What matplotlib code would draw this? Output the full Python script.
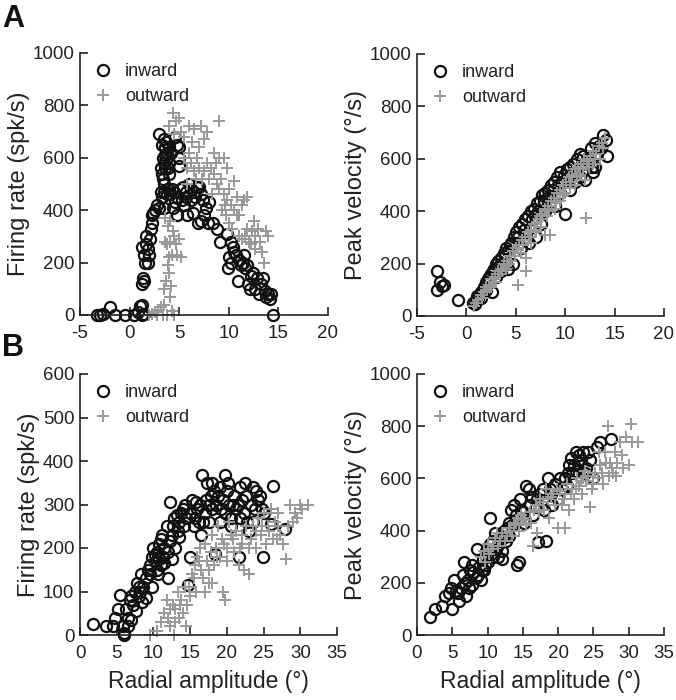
import matplotlib
matplotlib.use("Agg")
import matplotlib.pyplot as plt
import numpy as np

plt.rcParams['font.family'] = ['Liberation Sans', 'DejaVu Sans']
plt.rcParams['axes.unicode_minus'] = False

# ---- panel A, firing rate ----
aL_in = [(-3.3,0),(-3.0,0),(-2.7,5),(-2.0,30),(-1.5,0),(-0.5,0),(0.4,0),(0.8,10),(1.0,35),(1.2,40),(1.3,0),(1.5,5),
         (1.3,120),(1.4,140),(1.5,130),(1.2,260),(1.5,230),(1.6,200),(1.9,200),(1.7,270),(1.7,300),(1.9,250),(2.0,230),
         (2.1,290),(2.2,330),(2.3,350),(2.3,380),(2.4,390),(2.6,400),(2.8,420),(3.0,410),(3.5,410),
         (3.0,690),(3.3,650),(3.5,670),(3.6,640),(3.7,660),(3.2,560),(3.3,540),(3.4,600),(3.5,580),(3.6,560),(3.7,590),
         (3.8,620),(3.9,560),(4.0,540),(3.4,520),(3.5,500),(3.2,470),(3.5,470),(3.8,460),(4.1,460),(4.3,480),(4.5,470),
         (4.0,640),(4.2,620),(4.6,680),(4.8,650),(5.0,640),(5.0,600),(5.0,570),(3.6,610),(4.0,580),(3.3,450),(3.9,480),
         (4.8,450),(5.1,480),(5.4,490),(5.7,470),(6.0,500),(6.2,480),(6.5,470),(6.8,490),(7.0,490),(7.2,460),(7.4,440),
         (5.3,440),(5.7,450),(6.2,440),(4.6,430),(4.4,410),(4.8,380),(5.8,380),(6.4,390),(6.9,350),(7.2,360),(7.7,410),
         (8.0,430),(7.9,350),(8.4,350),(8.8,330),(9.1,280),(6.6,450),(5.5,420),(7.5,380),
         (9.8,310),(10.2,280),(10.4,260),(10.5,240),(10.0,220),(10.2,200),(9.9,180),(10.7,230),(11.0,210),(11.2,190),
         (11.5,230),(11.6,180),(10.9,130),(11.8,190),(11.9,120),(12.1,100),(12.4,160),(12.6,100),(12.8,140),(13.0,80),
         (13.2,120),(13.4,140),(13.6,90),(13.8,70),(14.0,80),(14.2,60),(14.3,80),(14.5,0),(11.4,200),(12.2,150)]
aL_out = [(2.0,0),(2.3,5),(2.6,10),(2.9,20),(3.2,30),(3.5,40),(3.8,0),(4.1,70),(4.3,15),(2.8,0),(3.4,0),(4.5,0),
          (3.5,100),(3.7,130),(4.0,160),(3.9,190),(4.2,110),(3.6,280),(3.8,270),(4.1,280),(4.3,230),(4.5,300),(4.8,230),
          (5.0,290),(5.2,220),(3.9,340),(4.1,360),(4.4,320),(3.6,370),(4.7,270),(4.0,220),
          (4.0,720),(4.4,770),(4.7,740),(5.0,750),(5.2,700),(5.5,680),(6.0,720),(6.5,710),(7.2,720),(7.5,670),(7.8,700),
          (9.0,740),(8.5,620),(9.5,600),(9.8,560),(4.5,690),(6.3,660),
          (5.5,600),(5.8,560),(6.0,620),(6.2,580),(6.5,550),(6.8,600),(7.0,560),(7.3,520),(7.5,550),(7.8,580),(8.0,520),
          (8.2,560),(8.5,540),(8.8,500),(9.0,480),(9.2,520),(9.5,460),(9.8,440),(10.0,480),(10.2,420),(10.5,400),(10.8,450),
          (11.0,380),(11.3,420),(11.5,440),(9.3,400),(9.6,420),(10.0,350),(10.3,330),(11.0,300),(11.3,290),(11.6,300),
          (11.8,330),(12.0,280),(12.3,320),(12.6,300),(12.9,330),(13.1,280),(13.3,240),(12.2,270),(12.6,250),(13.5,200),
          (14.0,300),(13.7,320),(8.7,580),(9.0,600),(10.5,510),(7.0,640),(6.7,520),(8.3,460),(9.7,380),(11.8,450),
          (12.5,360),(10.8,380),(5.8,500)]

# ---- panel A, peak velocity ----
aR_in = [(-3.0,170),(-3.0,100),(-2.7,130),(-2.5,115),(-2.3,120),(-0.9,60),
         (0.7,50),(0.9,45),(1.0,60),(1.2,70),(1.5,90),(1.8,110),(2.0,130),(2.3,150),(2.5,160),(2.8,180),(3.0,200),
         (3.2,210),(3.5,220),(3.8,240),(4.0,260),(4.2,250),(4.5,280),(4.8,300),(5.0,320),(5.3,340),(5.6,350),(5.9,370),
         (6.2,380),(6.5,400),(6.8,410),(7.1,430),(7.4,440),(7.7,460),(8.0,470),(8.3,480),(8.6,500),(8.9,510),(9.2,530),
         (9.5,550),(9.9,540),(10.2,560),(10.5,570),(10.8,580),(11.2,600),(11.5,620),(11.8,610),(12.2,600),(12.6,640),
         (13.0,660),(13.4,650),(13.8,690),(14.1,670),(14.2,610),(12.8,550),(12.7,570),(10.0,390),(4.7,200),(4.2,180),
         (6.3,280),(7.0,300),(2.6,90),(8.0,400),(9.0,420),(11.0,510),(6.0,300),(3.5,170),(4.0,200),(7.5,350),(10.5,480),
         (11.5,530),(12.0,520),(5.5,260),(3.0,150),(2.0,100),(1.5,70),(9.5,470),(13.0,570),(8.5,430),
         (1.1,75),(1.7,100),(2.2,140),(2.7,170),(3.3,190),(3.9,230),(4.4,270),(5.2,300),(5.8,330),(6.6,370),(7.2,400),
         (7.9,440),(8.8,480),(9.3,500),(10.3,520),(10.9,550),(11.7,580),(12.4,590),(13.2,620),(13.6,640),(6.9,380),
         (8.2,450),(9.7,510)]
aR_out = [(0.8,40),(1.2,60),(1.5,80),(1.8,90),(2.0,110),(2.3,120),(2.6,140),(2.9,150),(3.2,170),(3.5,180),(3.8,200),
          (4.1,210),(4.4,230),(4.7,250),(5.0,260),(5.3,270),(5.6,290),(5.9,300),(6.2,320),(6.5,330),(6.8,350),(7.1,360),
          (7.4,380),(7.7,390),(8.0,410),(8.3,420),(8.6,440),(8.9,450),(9.2,470),(9.5,480),(9.8,500),(10.1,510),(10.4,530),
          (10.7,540),(11.0,560),(11.3,570),(11.6,580),(11.9,600),(12.2,590),(12.5,610),(12.8,630),(13.1,620),(13.4,650),
          (13.7,660),(14.0,680),(12.1,375),(5.2,120),(6.0,170),(6.0,220),(8.0,310),(8.5,310),(3.0,130),(4.0,180),
          (5.5,240),(7.0,320),(9.0,410),(10.0,470),(11.0,500),(12.0,520),(6.5,280),(7.5,340),(9.5,440),(10.5,490),
          (11.5,540),(4.5,210),(3.3,160),(8.2,380),(12.8,580),(13.5,600),(2.5,110),
          (1.0,50),(1.6,70),(2.1,100),(2.8,130),(3.6,170),(4.3,200),(4.9,230),(5.7,270),(6.3,300),(6.9,330),(7.6,370),
          (8.4,400),(9.1,430),(9.8,460),(10.6,510),(11.2,530),(11.8,560),(12.4,570),(13.0,600),(13.8,640)]

# ---- panel B, firing rate ----
bL_in = [(1.8,25),(3.5,20),(4.5,20),(4.8,40),(5.2,60),(5.4,92),(5.8,20),(6.0,5),(6.3,60),(6.5,40),(6.8,80),(7.0,90),
         (7.2,70),(7.5,100),(7.8,120),(8.0,90),(8.3,140),(8.6,110),(9.0,130),(9.3,150),(9.5,160),(9.8,180),(10.0,200),
         (10.3,170),(10.5,190),(10.8,210),(11.0,220),(11.3,180),(11.5,200),(11.8,250),(12.0,190),(12.3,306),(12.5,230),
         (12.8,270),(13.0,200),(13.3,240),(13.5,260),(13.8,280),(14.0,290),(14.5,270),(14.7,115),(15.0,180),(15.3,310),
         (15.5,250),(16.0,290),(16.3,300),(16.6,368),(16.5,230),(17.0,280),(17.3,350),(17.5,260),(17.8,320),(18.0,290),
         (18.4,186),(18.5,300),(19.0,260),(19.8,368),(19.5,310),(19.8,280),(20.0,330),(20.3,300),(20.6,270),(21.0,320),
         (21.3,290),(21.7,179),(21.8,340),(22.0,310),(22.3,280),(22.5,350),(22.8,260),(23.0,240),(23.3,300),(23.6,340),
         (24.0,330),(24.3,310),(24.9,179),(24.8,290),(25.0,280),(26.3,342),(26.0,255),(27.9,244),(7.6,55),(6.0,0),
         (10.6,140),(11.0,160),(9.0,85),(12.0,130),(8.5,75),(9.8,110),(10.5,150),(11.5,165),(12.5,175),(13.5,225),
         (14.2,250),(15.7,270),(16.8,260),(17.6,300),(18.8,320),(20.5,250),(21.5,300),(23.5,260),(24.5,320),(6.5,20),
         (7.0,35),(8.2,100),(12.2,215),(10.2,185),
         (11.2,230),(12.6,250),(13.2,275),(14.3,300),(15.0,280),(15.8,305),(16.2,260),(17.2,310),(18.2,330),(19.2,290),
         (20.8,300),(21.8,270),(22.6,320),(23.8,290),(19.0,340),(20.2,350),(18.0,350),(9.5,140),(10.8,175),(8.0,110)]
bL_out = [(9.5,0),(10.5,10),(11.0,30),(11.5,50),(11.8,80),(12.0,40),(12.3,20),(12.6,70),(13.0,60),(13.3,100),(13.5,40),
          (13.8,80),(14.0,50),(14.3,110),(14.6,70),(15.0,90),(15.3,140),(15.6,160),(15.8,100),(16.0,180),(16.3,200),
          (16.5,150),(16.8,130),(17.0,210),(17.3,170),(17.5,120),(17.8,190),(18.0,230),(18.3,160),(18.5,200),(18.8,250),
          (19.0,180),(19.3,220),(19.5,100),(19.8,80),(20.0,200),(20.3,260),(20.6,230),(21.0,190),(21.3,240),(21.6,160),
          (22.0,210),(22.3,150),(22.6,250),(23.0,140),(23.3,220),(23.6,250),(24.0,200),(24.3,270),(24.6,230),(25.0,280),
          (25.3,210),(25.6,250),(26.0,290),(26.3,220),(26.6,260),(27.0,250),(27.3,230),(27.6,210),(28.0,175),(28.3,250),
          (28.6,300),(29.0,260),(29.3,280),(29.6,270),(30.0,300),(30.3,290),(31.0,300),(13.0,30),(14.5,20),(12.8,0),
          (12.2,60),(13.6,70),(14.8,110),(15.5,130),(16.2,170),(17.6,150),(18.6,180),(19.6,210),(20.8,220),(22.0,230),
          (23.0,200),(24.8,250),(25.8,240),(26.8,220),(27.0,280),(17.0,100),(20.0,170),(21.8,200),(18.0,120),(24.0,240)]

# ---- panel B, peak velocity ----
bR_in = [(1.8,70),(3.5,110),(4.0,150),(4.5,160),(5.0,100),(5.5,170),(5.2,210),(6.0,130),(6.3,180),(6.5,230),(6.6,280),
         (7.0,150),(7.2,210),(7.5,250),(7.8,190),(8.0,240),(8.3,220),(8.5,330),(8.8,260),(9.0,210),(9.3,290),(9.5,250),
         (9.8,320),(10.0,280),(10.3,350),(10.3,448),(10.8,300),(11.0,390),(11.3,340),(11.5,300),(11.8,370),(12.0,320),
         (12.3,400),(12.6,360),(13.0,430),(13.3,480),(13.5,420),(13.8,500),(14.1,268),(14.5,280),(14.2,440),(14.6,520),
         (15.0,470),(15.5,570),(15.8,560),(16.0,500),(16.5,460),(17.0,520),(17.2,356),(18.3,360),(17.8,560),(18.0,480),
         (18.5,600),(19.0,540),(19.5,580),(20.0,520),(20.5,560),(21.0,600),(21.5,650),(21.8,680),(22.0,620),(22.5,700),
         (22.8,660),(23.0,690),(23.5,700),(24.0,640),(24.5,670),(25.0,600),(25.5,720),(26.0,740),(27.5,750),(2.5,100),
         (5.8,160),(7.3,180),(8.6,230),(9.7,270),(11.2,330),(12.8,410),(15.2,430),(16.8,490),(19.2,500),(21.2,570),
         (23.8,620),(22.3,650),
         (4.8,180),(6.8,200),(7.8,270),(9.2,250),(10.5,310),(11.6,350),(12.2,370),(13.0,380),(14.8,480),(16.3,530),
         (17.5,540),(18.8,560),(20.3,600),(21.4,620),(22.6,630),(23.2,670),(24.2,700),(10.8,360),(12.0,290),(14.0,460)]
bR_out = [(9.0,300),(9.5,320),(10.0,350),(10.5,330),(11.0,370),(11.5,340),(12.0,390),(12.5,360),(13.0,410),(13.5,380),
          (14.0,430),(14.5,400),(15.0,450),(15.5,420),(16.0,470),(16.5,340),(16.8,500),(17.0,390),(17.5,520),(18.0,480),
          (18.3,560),(18.7,450),(19.0,530),(19.5,500),(20.0,410),(20.3,550),(20.8,520),(21.0,410),(21.3,580),(21.6,480),
          (22.0,560),(22.3,520),(22.7,600),(23.0,570),(23.4,540),(23.8,630),(24.0,590),(24.5,490),(24.8,560),(25.2,620),
          (25.6,600),(26.0,650),(26.4,580),(26.8,660),(27.2,610),(27.0,800),(27.6,640),(28.0,700),(28.4,660),(28.8,740),
          (29.2,640),(29.6,760),(30.0,650),(30.3,810),(30.5,740),(31.3,740),(10.2,310),(11.8,360),(13.2,400),(14.8,460),
          (16.2,430),(17.8,510),(19.8,560),(21.8,540),(23.5,600),(25.8,700),(27.8,620),
          (9.6,280),(10.8,340),(11.3,390),(12.8,380),(13.8,420),(14.3,450),(15.3,440),(16.6,480),(17.3,470),(18.5,520),
          (19.3,540),(20.6,500),(21.0,540),(22.5,560),(23.2,590),(24.3,610),(25.0,580),(26.2,620),(27.4,660),(28.2,610),
          (29.0,690),(26.6,700)]

xlab = "Radial amplitude (\u00b0)"
panels = [
    # rect (px: left, top, width, height), inward, outward, xlim, xticks, ylim, yticks, ylabel, xlabel
    ([80, 53, 248, 262], aL_in, aL_out, (-5, 20), range(-5, 21, 5), (0, 1000), range(0, 1001, 200), "Firing rate (spk/s)", None),
    ([417, 54, 247, 262], aR_in, aR_out, (-5, 20), range(-5, 21, 5), (0, 1000), range(0, 1001, 200), "Peak velocity (\u00b0/s)", None),
    ([80, 374, 257, 261], bL_in, bL_out, (0, 35), range(0, 36, 5), (0, 600), range(0, 601, 100), "Firing rate (spk/s)", xlab),
    ([417, 374, 247, 261], bR_in, bR_out, (0, 35), range(0, 36, 5), (0, 1000), range(0, 1001, 200), "Peak velocity (\u00b0/s)", xlab),
]

W, H = 676, 700
fig = plt.figure(figsize=(W / 100, H / 100), dpi=100)

for rect, pin, pout, xl, xt, yl, yt, ylab, xlb in panels:
    l, t, w, h = rect
    ax = fig.add_axes([l / W, 1 - (t + h) / H, w / W, h / H])
    pin = np.array(pin)
    pout = np.array(pout)
    ax.plot(pin[:, 0], pin[:, 1], 'o', mfc='none', mec='#111111', ms=8, mew=1.6, label='inward', clip_on=False)
    ax.plot(pout[:, 0], pout[:, 1], '+', color='#999999', ms=9, mew=1.4, label='outward', clip_on=False)
    ax.set_xlim(*xl)
    ax.set_ylim(*yl)
    ax.set_xticks(list(xt))
    ax.set_yticks(list(yt))
    for s in ['top', 'right']:
        ax.spines[s].set_visible(False)
    for s in ['left', 'bottom']:
        ax.spines[s].set_linewidth(1.2)
        ax.spines[s].set_color('#222222')
    ax.tick_params(direction='in', length=6, width=1.2, labelsize=13.5, color='#222222', labelcolor='#222222')
    ax.tick_params(axis='x', pad=7)
    ax.tick_params(axis='y', pad=4)
    ax.set_ylabel(ylab, fontsize=17, color='#222222', labelpad=2)
    if xlb:
        ax.set_xlabel(xlb, fontsize=16.5, color='#222222', labelpad=6)
    leg = ax.legend(loc='upper left', frameon=False, fontsize=13, handletextpad=0.6,
                    labelspacing=0.45, borderaxespad=0.3, handlelength=1.2, bbox_to_anchor=(0.0, 1.01))
    for txt in leg.get_texts():
        txt.set_color('#222222')

fig.text(2 / W, 1 - 4 / H, "A", fontsize=22, fontweight='bold', va='top', ha='left', color='#111111')
fig.text(2 / W, 1 - 333 / H, "B", fontsize=22, fontweight='bold', va='top', ha='left', color='#111111')

fig.savefig("out.png", dpi=100)
